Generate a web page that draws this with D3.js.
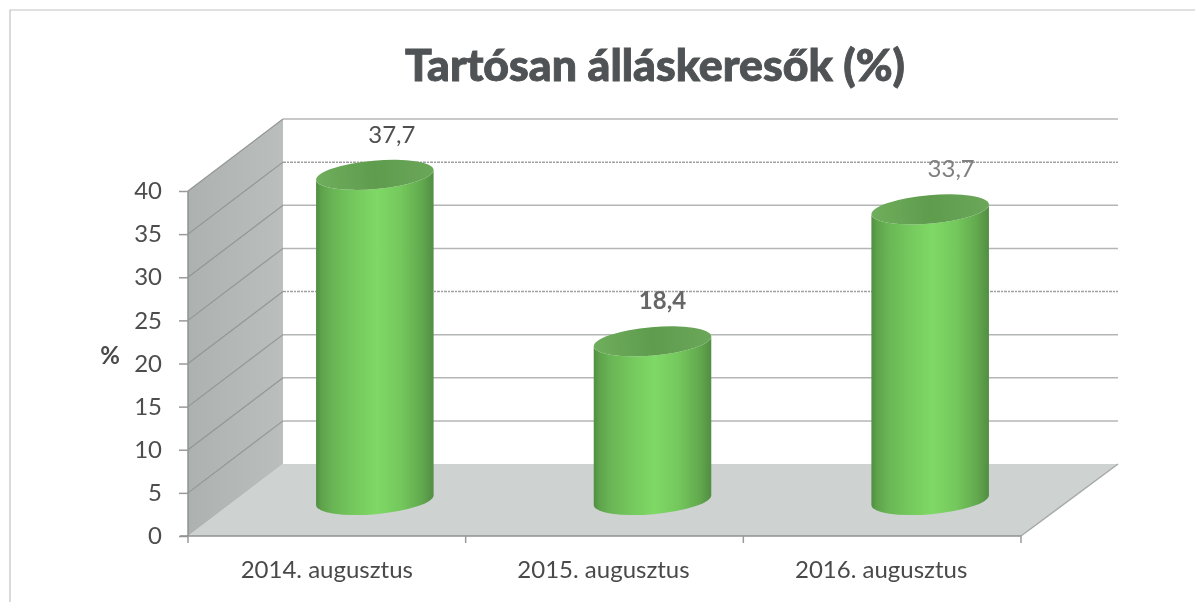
<!DOCTYPE html>
<html><head><meta charset="utf-8">
<script src="https://cdn.jsdelivr.net/npm/d3@7/dist/d3.min.js"></script>
<style>html,body{margin:0;background:#fff}svg{display:block}text{font-family:Lato,"Open Sans",sans-serif}</style>
</head><body><svg id="c" width="1200" height="611"></svg>
<script>
const categories = ["2014. augusztus","2015. augusztus","2016. augusztus"];
const values = [37.7,18.4,33.7];
const valueLabels = ["37,7","18,4","33,7"];
const yTicks = [0,5,10,15,20,25,30,35,40];
const speckledTicks = [20,35];
const titleText = "Tartósan álláskeresők (%)";
const axisLabel = "%";

const svg = d3.select("#c");
const depth={x:95,y:-72};
const y = d3.scaleLinear().domain([0,40]).range([536,191]);
const x = d3.scaleBand().domain(categories).range([188,1021]);
const f = 1/2;                      // columns stand half way into the depth
const yMid = v => y(v)+depth.y*f;

const defs = svg.append("defs");
const blur = defs.append("filter").attr("id","soft").attr("x","-2%").attr("y","-2%").attr("width","104%").attr("height","104%");
blur.append("feGaussianBlur").attr("stdDeviation",0.6);
const g1 = defs.append("linearGradient").attr("id","body").attr("x1","0").attr("x2","1").attr("y1","0").attr("y2","0");
[[0,"#508f40"],[0.05,"#5fa34c"],[0.14,"#69b555"],[0.35,"#76cb5e"],[0.52,"#7fd966"],[0.72,"#74c85c"],[0.9,"#62a94e"],[1,"#528d43"]]
 .forEach(d=>g1.append("stop").attr("offset",d[0]).attr("stop-color",d[1]));
const g2 = defs.append("linearGradient").attr("id","cap").attr("x1","0").attr("x2","1").attr("y1","0").attr("y2","0");
[[0,"#6fae5c"],[0.5,"#5f9c4e"],[1,"#6ba759"]].forEach(d=>g2.append("stop").attr("offset",d[0]).attr("stop-color",d[1]));
const g3 = defs.append("linearGradient").attr("id","wall").attr("x1","0").attr("x2","1").attr("y1","0").attr("y2","0");
[[0,"#adb1b0"],[1,"#babebd"]].forEach(d=>g3.append("stop").attr("offset",d[0]).attr("stop-color",d[1]));

const root = svg.append("g").attr("filter","url(#soft)");

// frame (top + left edges are what the scan shows)
root.append("path").attr("d",`M10,602V10H1195`).attr("fill","none").attr("stroke","#c2c2c2").attr("stroke-width",1.2);

const x0=x.range()[0], x1=x.range()[1];
const line = d3.line();
// floor
root.append("path").attr("d",line([[x0,y(0)],[x0+depth.x,y(0)+depth.y],[x1+depth.x+2,y(0)+depth.y],[x1,y(0)]])+"Z").attr("fill","#ced3d2");
root.append("path").attr("d",line([[x1+depth.x+2,y(0)+depth.y],[x1,y(0)]])).attr("stroke","#a7aaa9").attr("stroke-width",1.5).attr("fill","none");
// side wall
root.append("path").attr("d",line([[x0,y(40)],[x0+depth.x,y(40)+depth.y],[x0+depth.x,y(0)+depth.y],[x0,y(0)]])+"Z").attr("fill","url(#wall)");
root.append("line").attr("x1",x0).attr("x2",x0).attr("y1",y(40)).attr("y2",y(0)).attr("stroke","#8f9392").attr("stroke-width",1.5);
// gridlines
const grid = root.append("g");
grid.selectAll("path.side").data(yTicks.slice(1)).join("path").attr("class","side")
  .attr("d",d=>line([[x0,y(d)],[x0+depth.x,y(d)+depth.y]])).attr("stroke","#929695").attr("stroke-width",1.2).attr("fill","none");
grid.selectAll("line.back").data(yTicks.slice(1)).join("line").attr("class","back")
  .attr("x1",x0+depth.x).attr("x2",x1+depth.x+2)
  .attr("y1",d=>y(d)+depth.y).attr("y2",d=>y(d)+depth.y)
  .attr("stroke",d=>speckledTicks.includes(d)?"#a0a0a0":"#b4b6b5")
  .attr("stroke-width",1.5)
  .attr("stroke-dasharray",d=>speckledTicks.includes(d)?"3 1 2 1":null);

// axes
const yAxis = d3.axisLeft(y).tickValues(yTicks).tickSize(9).tickPadding(17).tickFormat(d3.format("d"));
const ga = root.append("g").attr("transform",`translate(${x0},0)`).call(yAxis);
ga.select(".domain").remove();
ga.selectAll("line").attr("stroke","#9a9a9a").attr("stroke-width",1.5);
ga.selectAll("text").attr("font-size",24).attr("fill","#4d4d4d");

const xTickPos = [x0].concat(categories.map(c=>x(c)+x.bandwidth()));
root.append("line").attr("x1",x0-8).attr("x2",x1).attr("y1",y(0)).attr("y2",y(0)).attr("stroke","#8f9291").attr("stroke-width",1.5);
root.selectAll("line.xt").data(xTickPos).join("line").attr("class","xt")
  .attr("x1",d=>d).attr("x2",d=>d).attr("y1",y(0)).attr("y2",y(0)+7).attr("stroke","#9a9a9a").attr("stroke-width",1.5);
root.selectAll("text.cat").data(categories).join("text").attr("class","cat")
  .attr("x",d=>x(d)+x.bandwidth()/2+(categories.indexOf(d)===0?0:-1)).attr("y",578)
  .attr("text-anchor","middle").attr("font-size",24).attr("fill","#4a4a4a").text(d=>d);

// cylinders
const rx=59, ry=14.2, tilt=-5;
const cx = c => x(c)+x.bandwidth()/2+48;
const t=tilt*Math.PI/180;
const labelShift=[17,10,21];
const bars = root.selectAll("g.bar").data(categories.map((c,i)=>({c,v:values[i],l:valueLabels[i]}))).join("g").attr("class","bar");
bars.append("path").attr("d",d=>{
  const X=cx(d.c), yb=yMid(0), yt=yMid(d.v);
  const dx=rx*Math.cos(t), dy=rx*Math.sin(t);
  return `M${X-dx},${yt-dy}L${X-dx},${yb-dy}A${rx},${ry} ${tilt} 0 0 ${X+dx},${yb+dy}L${X+dx},${yt+dy}A${rx},${ry} ${tilt} 0 1 ${X-dx},${yt-dy}Z`;
}).attr("fill","url(#body)");
bars.append("ellipse").attr("cx",0).attr("cy",0).attr("rx",rx).attr("ry",ry)
  .attr("transform",d=>`translate(${cx(d.c)},${yMid(d.v)}) rotate(${tilt})`).attr("fill","url(#cap)");
bars.append("text").attr("x",(d,i)=>cx(d.c)+labelShift[i]).attr("y",d=>yMid(d.v)-32)
  .attr("text-anchor","middle").attr("font-size",24)
  .attr("fill",(d,i)=>i===1?"#666":i===2?"#808080":"#4f4f4f").attr("font-weight",(d,i)=>i===1?700:400).text(d=>d.l);

root.append("text").attr("x",110).attr("y",364).attr("text-anchor","middle").attr("font-size",24).attr("font-weight",700).attr("fill","#4a4a4a").text(axisLabel);
root.append("text").attr("x",655).attr("y",81).attr("text-anchor","middle").attr("font-size",44).attr("font-weight",900).attr("fill","#4f5254")
  .attr("stroke","#4f5254").attr("stroke-width",0.9)
  .attr("textLength",500).attr("lengthAdjust","spacingAndGlyphs").text(titleText);
</script></body></html>
